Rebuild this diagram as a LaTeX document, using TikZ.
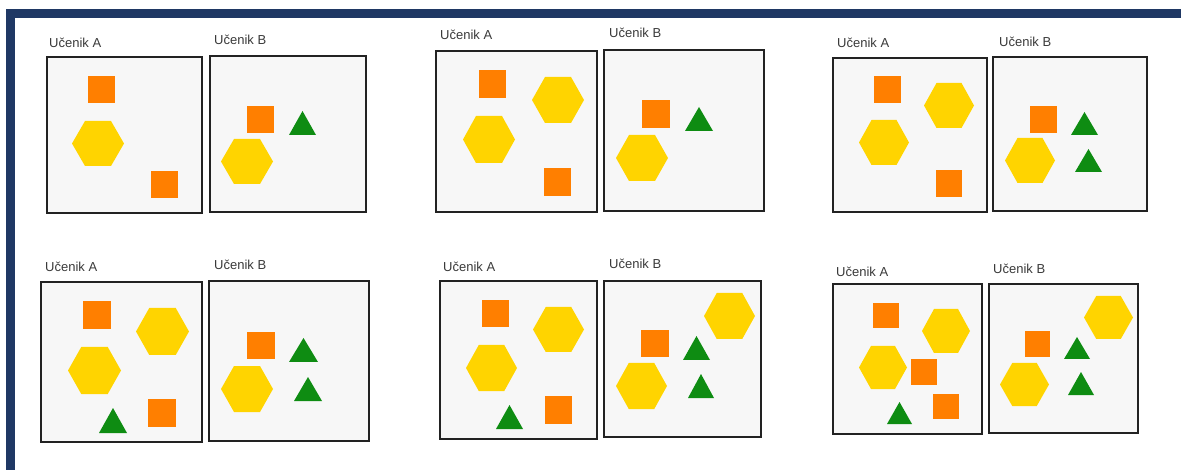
\documentclass[tikz,border=0pt]{standalone}
\usepackage{fontspec}
\setmainfont{Liberation Sans}
\definecolor{navy}{HTML}{1F3864}
\definecolor{sqc}{HTML}{FF7F00}
\definecolor{hxc}{HTML}{FFD400}
\definecolor{trc}{HTML}{0E8C12}
\definecolor{boxfill}{HTML}{F7F7F7}
\definecolor{boxline}{HTML}{222222}
\definecolor{labc}{HTML}{3A3A3A}
\tikzset{
  panelbox/.style={draw=boxline, fill=boxfill, line width=2pt},
  lab/.style={anchor=west, inner sep=0pt, text=labc, font=\fontsize{13}{15}\selectfont},
}
\newcommand{\sqr}[4]{\fill[sqc] (#1,#2) rectangle (#3,#4);}
\newcommand{\hexg}[4]{\fill[hxc] (#1,{(#2+#4)/2}) -- ({#1+(#3-#1)/4},#2) -- ({#3-(#3-#1)/4},#2) -- (#3,{(#2+#4)/2}) -- ({#3-(#3-#1)/4},#4) -- ({#1+(#3-#1)/4},#4) -- cycle;}
\newcommand{\trig}[4]{\fill[trc] (#1,#4) -- ({(#1+#3)/2},#2) -- (#3,#4) -- cycle;}
\begin{document}
\begin{tikzpicture}[x=1pt,y=-1pt]
\useasboundingbox (0,0) rectangle (1181,470);
\fill[white] (0,0) rectangle (1181,470);
\fill[navy] (6,9) rectangle (1181,18);
\fill[navy] (6,9) rectangle (15,470);

% ---- Panel 1 ----
\node[lab] (l1a) at (49,43) {Učenik A};
\node[lab] (l1b) at (214,40) {Učenik B};
\draw[panelbox] (47,57) rectangle (202,213);
\draw[panelbox] (210,56) rectangle (366,212);
\sqr{88}{76}{115}{103}
\hexg{72}{121}{124}{166}
\sqr{151}{171}{178}{198}
\sqr{247}{106}{274}{133}
\trig{289}{111}{316}{135}
\hexg{221}{139}{273}{184}

% ---- Panel 2 ----
\node[lab] (l2a) at (440,35) {Učenik A};
\node[lab] (l2b) at (609,33) {Učenik B};
\draw[panelbox] (436,51) rectangle (597,212);
\draw[panelbox] (604,50) rectangle (764,211);
\sqr{479}{70}{506}{98}
\hexg{532}{77}{584}{123}
\hexg{463}{116}{515}{163}
\sqr{544}{168}{571}{196}
\sqr{642}{100}{670}{128}
\trig{685}{107}{713}{131}
\hexg{616}{135}{668}{181}

% ---- Panel 3 ----
\node[lab] (l3a) at (837,43) {Učenik A};
\node[lab] (l3b) at (999,42) {Učenik B};
\draw[panelbox] (833,58) rectangle (987,212);
\draw[panelbox] (993,57) rectangle (1147,211);
\sqr{874}{76}{901}{103}
\hexg{924}{83}{974}{128}
\hexg{859}{120}{909}{165}
\sqr{936}{170}{962}{197}
\sqr{1030}{106}{1057}{133}
\trig{1071}{112}{1098}{135}
\trig{1075}{149}{1102}{172}
\hexg{1005}{138}{1055}{183}

% ---- Panel 4 ----
\node[lab] (l4a) at (45,267) {Učenik A};
\node[lab] (l4b) at (214,265) {Učenik B};
\draw[panelbox] (41,282) rectangle (202,442);
\draw[panelbox] (209,281) rectangle (369,441);
\sqr{83}{301}{111}{329}
\hexg{136}{308}{189}{355}
\hexg{68}{347}{121}{394}
\trig{99}{408}{127}{433}
\sqr{148}{399}{176}{427}
\sqr{247}{332}{275}{359}
\trig{289}{338}{318}{362}
\trig{294}{377}{322}{401}
\hexg{221}{366}{273}{412}

% ---- Panel 5 ----
\node[lab] (l5a) at (443,267) {Učenik A};
\node[lab] (l5b) at (609,264) {Učenik B};
\draw[panelbox] (440,281) rectangle (597,439);
\draw[panelbox] (604,281) rectangle (761,437);
\sqr{482}{300}{509}{327}
\hexg{533}{307}{584}{352}
\hexg{466}{345}{517}{391}
\trig{496}{405}{523}{429}
\sqr{545}{396}{572}{424}
\hexg{704}{293}{755}{339}
\sqr{641}{330}{669}{357}
\trig{683}{336}{710}{360}
\trig{688}{374}{714}{398}
\hexg{616}{363}{667}{409}

% ---- Panel 6 ----
\node[lab] (l6a) at (836,272) {Učenik A};
\node[lab] (l6b) at (993,269) {Učenik B};
\draw[panelbox] (833,284) rectangle (982,434);
\draw[panelbox] (989,284) rectangle (1138,433);
\sqr{873}{303}{899}{328}
\hexg{922}{309}{970}{353}
\hexg{859}{346}{907}{389}
\sqr{911}{359}{937}{385}
\sqr{933}{394}{959}{419}
\trig{887}{402}{912}{424}
\hexg{1084}{296}{1133}{339}
\sqr{1025}{331}{1050}{357}
\trig{1064}{337}{1090}{359}
\trig{1068}{372}{1094}{395}
\hexg{1000}{363}{1049}{406}
\end{tikzpicture}
\end{document}
